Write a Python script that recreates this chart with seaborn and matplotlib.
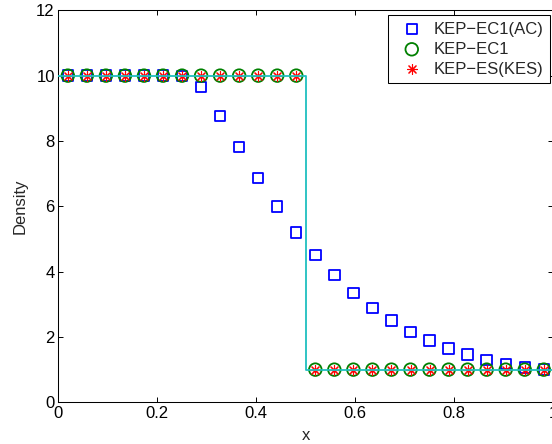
import numpy as np
import pandas as pd
import matplotlib
matplotlib.use("Agg")
import matplotlib.pyplot as plt
import seaborn as sns

# Cell centres of the 26-cell grid on [0, 1]
x_cells = (np.arange(26) + 0.5) / 26

# Density from the three schemes
rho_ac = [10.0, 10.0, 10.0, 10.0, 10.0, 10.0, 9.98, 9.66, 8.77, 7.81, 6.86, 5.99, 5.20,
          4.50, 3.89, 3.35, 2.89, 2.50, 2.16, 1.89, 1.65, 1.46, 1.29, 1.18, 1.07, 1.01]
rho_ec1 = [10.0] * 13 + [1.0] * 13
rho_es = [10.0] * 13 + [1.0] * 13

# Exact contact discontinuity
x_exact = [0.0, 0.5, 0.5, 1.0]
rho_exact = [10.0, 10.0, 1.0, 1.0]

labels = ["KEP\u2212EC1(AC)", "KEP\u2212EC1", "KEP\u2212ES(KES)"]
xticks = [0, 0.2, 0.4, 0.6, 0.8, 1]
yticks = [0, 2, 4, 6, 8, 10, 12]

sns.set_style("ticks")
plt.rcParams["font.family"] = ["Liberation Sans", "DejaVu Sans"]
plt.rcParams["axes.linewidth"] = 0.75

FS = 12

fig = plt.figure(figsize=(5.52, 4.44), dpi=100)
W, H = 552, 444
x0_px, x1_px = 58.3, 553.3
y_top, y_bot = 10.3, 402.3
ax = fig.add_axes([x0_px / W, (H - y_bot) / H, (x1_px - x0_px) / W, (y_bot - y_top) / H])

df = pd.DataFrame({"x": x_cells, "ac": rho_ac, "ec1": rho_ec1, "es": rho_es})

sns.scatterplot(data=df, x="x", y="ac", marker="s", s=56, facecolors="none",
                edgecolor="#0000FF", color="#0000FF", linewidth=1.3,
                label=labels[0], ax=ax, zorder=3)
sns.scatterplot(data=df, x="x", y="ec1", marker="o", s=82, facecolors="none",
                edgecolor="#008000", color="#008000", linewidth=1.3,
                label=labels[1], ax=ax, zorder=4)
sns.scatterplot(data=df, x="x", y="es", marker=(8, 2, 0), s=52, color="#FF0000",
                linewidth=0.8, label=labels[2], ax=ax, zorder=5)

exact = pd.DataFrame({"x": x_exact, "rho": rho_exact})
sns.lineplot(data=exact, x="x", y="rho", sort=False, estimator=None,
             color="#1FBFBF", linewidth=1.3, ax=ax, zorder=6, legend=False)

ax.set_xlim(0, 1)
ax.set_ylim(0, 12)
ax.set_xticks(xticks)
ax.set_xticklabels([f"{t:g}" for t in xticks])
ax.set_yticks(yticks)
ax.set_yticklabels([str(t) for t in yticks])
ax.tick_params(direction="in", top=True, right=True, length=3.6, width=0.7,
               labelsize=FS, pad=2.5, colors="black")
for sp in ax.spines.values():
    sp.set_visible(True)
    sp.set_color("black")
    sp.set_linewidth(0.75)

ax.set_xlabel("x", fontsize=FS, labelpad=5)
ax.set_ylabel("Density", fontsize=FS, labelpad=6)

leg = ax.legend(loc="upper right", bbox_to_anchor=(0.9943, 0.988), borderaxespad=0,
                fontsize=FS, frameon=True, fancybox=False, framealpha=1,
                edgecolor="black", handletextpad=0.33, labelspacing=0.3,
                borderpad=0.4, handlelength=2.0)
leg.get_frame().set_linewidth(0.75)

fig.savefig("out.png", dpi=100, facecolor="white")
